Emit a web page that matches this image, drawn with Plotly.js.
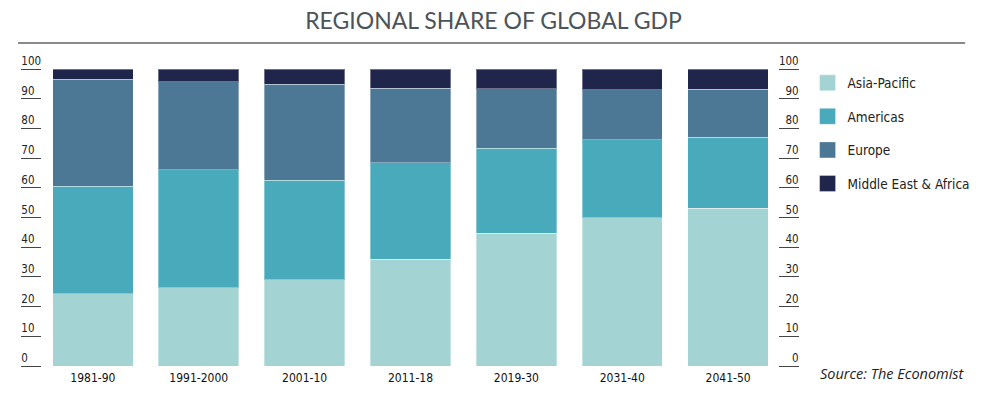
<!DOCTYPE html>
<html>
<head>
<meta charset="utf-8">
<script src="https://cdn.plot.ly/plotly-3.0.1.min.js"></script>
<style>html,body{margin:0;padding:0;background:#fff;}#chart{width:987px;height:396px;}</style>
</head>
<body>
<div id="chart"></div>
<script>
const periods = ["1981-90", "1991-2000", "2001-10", "2011-18", "2019-30", "2031-40", "2041-50"];
const regions = ["Asia-Pacific", "Americas", "Europe", "Middle East & Africa"];
const asiaPacific = [24.4, 26.3, 29.0, 36.0, 44.7, 49.9, 53.2];
const americas    = [36.2, 39.7, 33.6, 32.4, 28.7, 26.2, 23.9];
const europe      = [36.0, 29.7, 32.2, 25.2, 19.9, 16.9, 16.1];
const middleEastAfrica = [3.4, 4.3, 5.2, 6.4, 6.7, 7.0, 6.8];
const yTicks = [0, 10, 20, 30, 40, 50, 60, 70, 80, 90, 100];
const colors = ["#a3d4d3", "#48aabb", "#4c7896", "#20254b"];
const series = [asiaPacific, americas, europe, middleEastAfrica];

const condensed = "DejaVu Sans Condensed, DejaVu Sans, sans-serif";
const tickFont = {family: condensed, size: 11.5, color: "#222"};

const traces = [];
series.forEach((vals, i) => {
  traces.push({
    type: "bar", x: periods, y: vals, name: regions[i],
    marker: {color: colors[i], line: {color: "rgba(255,255,255,0.35)", width: 1}},
    showlegend: false, hoverinfo: "name+y"
  });
});
// legend entries (no data) placed on the right-hand axis so that axis is drawn
series.forEach((vals, i) => {
  traces.push({
    type: "scatter", mode: "markers", x: [null], y: [null], name: regions[i],
    yaxis: "y2", legendgroup: "g" + i,
    marker: {symbol: "square", size: 16, color: colors[i], line: {color: "rgba(255,255,255,0.35)", width: 1}},
    showlegend: true
  });
});

const yCommon = {
  range: [0, 100], tickmode: "array", tickvals: yTicks, ticktext: yTicks.map(String),
  showgrid: false, zeroline: false, showline: false, fixedrange: true,
  ticks: "outside", ticklen: 20, tickwidth: 1, tickcolor: "#444",
  tickfont: tickFont, ticklabelstandoff: -22, ticklabelshift: -8
};

const layout = {
  width: 987, height: 396,
  margin: {l: 20, r: 184, t: 69, b: 30},
  paper_bgcolor: "#fff", plot_bgcolor: "#fff",
  barmode: "stack", bargap: 0.24,
  title: {
    text: "REGIONAL SHARE OF GLOBAL GDP",
    font: {family: "Lato, Open Sans, sans-serif", size: 23, color: "#4d5356", weight: 400},
    xref: "container", x: 0.5, xanchor: "center",
    yref: "container", y: 1 - 21 / 396, yanchor: "middle"
  },
  xaxis: {
    domain: [20 / 783, 765 / 783], type: "category", range: [-0.5, 6.5],
    showgrid: false, zeroline: false, showline: false, ticks: "",
    tickfont: {family: condensed, size: 12, color: "#111"},
    ticklabelstandoff: 3,
    fixedrange: true
  },
  yaxis: Object.assign({}, yCommon, {anchor: "free", position: 0, side: "right"}),
  yaxis2: Object.assign({}, yCommon, {anchor: "free", position: 1, side: "left", overlaying: "y"}),
  legend: {
    x: 1.011, xanchor: "left", y: 1.005, yanchor: "top",
    font: {family: condensed, size: 13.5, color: "#222"},
    traceorder: "grouped", tracegroupgap: 13, bgcolor: "rgba(0,0,0,0)",
    itemsizing: "trace"
  },
  shapes: [{
    type: "line", xref: "paper", yref: "paper",
    x0: -2 / 783, x1: 950 / 783, y0: (366 - 43) / 297, y1: (366 - 43) / 297,
    line: {color: "#8a8a8a", width: 2}
  }],
  annotations: [{
    text: "Source: The Economist", xref: "paper", yref: "paper",
    x: 802 / 783, xanchor: "left", y: -7 / 297, yanchor: "middle", showarrow: false,
    font: {family: "Open Sans, sans-serif", size: 14.5, color: "#222", style: "italic"}
  }]
};

Plotly.newPlot("chart", traces, layout, {displayModeBar: false, staticPlot: true});
</script>
</body>
</html>
